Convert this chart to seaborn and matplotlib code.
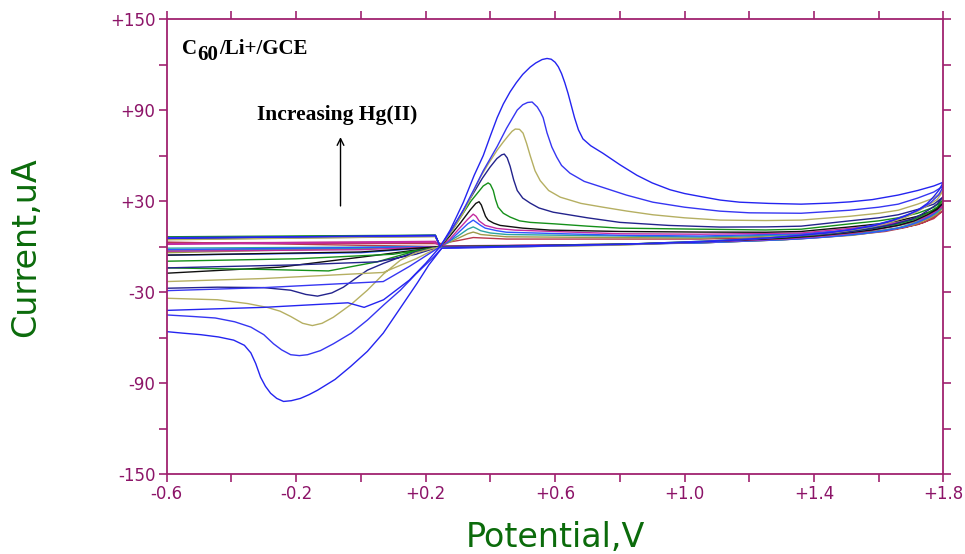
import matplotlib
matplotlib.use("Agg")
import matplotlib.pyplot as plt
import seaborn as sns
import pandas as pd

# ---------------- data ----------------
# curve 1 - largest (blue)
c1_fwd_v = [-0.60, -0.30, -0.04, 0.01, 0.07, 0.15, 0.20, 0.245, 0.276, 0.316, 0.35, 0.378, 0.40, 0.421, 0.44, 0.461, 0.48, 0.50, 0.523, 0.54, 0.56, 0.575, 0.588, 0.60, 0.61, 0.62, 0.63, 0.64, 0.65, 0.66, 0.672, 0.686, 0.71, 0.748, 0.80, 0.853, 0.90, 0.955, 1.00, 1.05, 1.11, 1.17, 1.26, 1.36, 1.45, 1.51, 1.58, 1.66, 1.72, 1.77, 1.80]
c1_fwd_i = [-42, -40, -37, -40, -35, -22, -11, 0, 11, 29, 47, 60, 73, 85, 94, 102, 108, 113.5, 118.3, 121, 123.3, 124, 123.5, 121.5, 118.5, 114, 108, 101, 93, 85, 77, 71, 66.5, 61.5, 54, 47, 42, 37.5, 35, 33, 30.7, 29.3, 28.5, 28, 28.7, 29.5, 31, 34, 37, 40, 42.5]
c1_rev_v = [1.80, 1.785, 1.77, 1.75, 1.72, 1.68, 1.64, 1.58, 1.51, 1.44, 1.36, 1.26, 1.17, 1.05, 0.90, 0.80, 0.65, 0.50, 0.30, 0.25, 0.21, 0.174, 0.12, 0.069, 0.02, -0.032, -0.08, -0.134, -0.16, -0.187, -0.215, -0.239, -0.26, -0.279, -0.295, -0.31, -0.325, -0.34, -0.36, -0.393, -0.44, -0.495, -0.55, -0.60]
c1_rev_i = [42.5, 37, 33, 28.5, 24, 20, 17, 13.5, 11, 9, 7.5, 5.8, 4.5, 3, 2, 1.5, 1, 0.5, -0.5, -1, -12, -24, -41, -57, -69, -79, -87.5, -94.6, -97.5, -100, -101.5, -102, -100, -96.6, -92, -86, -77, -70, -65, -61.6, -59.5, -58, -57, -56]
# curve 2 (blue)
c2_fwd_v = [-0.60, -0.30, -0.07, 0.069, 0.15, 0.245, 0.28, 0.316, 0.35, 0.378, 0.421, 0.45, 0.483, 0.50, 0.515, 0.529, 0.545, 0.555, 0.563, 0.575, 0.59, 0.605, 0.62, 0.646, 0.69, 0.748, 0.82, 0.902, 1.00, 1.109, 1.20, 1.36, 1.51, 1.60, 1.66, 1.72, 1.77, 1.80]
c2_fwd_i = [-29, -27, -24.5, -23, -13, 0, 11, 24, 38, 50, 66, 78, 90, 93.5, 95, 95.3, 92, 88.5, 85, 75, 65.6, 59, 53.5, 48.4, 43, 39, 34, 29.3, 26, 23.4, 22.3, 22, 24, 26, 28, 32, 36, 40]
c2_rev_v = [1.80, 1.785, 1.76, 1.73, 1.70, 1.65, 1.60, 1.52, 1.45, 1.35, 1.25, 1.05, 0.80, 0.50, 0.30, 0.25, 0.224, 0.17, 0.122, 0.07, 0.02, -0.03, -0.085, -0.125, -0.165, -0.19, -0.217, -0.245, -0.27, -0.30, -0.34, -0.39, -0.45, -0.52, -0.60]
c2_rev_i = [40, 34, 29, 25, 22, 18, 15, 11.5, 9.5, 7.2, 5.5, 3.5, 1.5, 0, -1, -1, -7, -18, -28.7, -38.5, -48.4, -57, -64, -68.5, -71.2, -71.8, -71.2, -68, -64, -58, -53, -49.5, -47, -46, -45]
# curve 3 (olive)
c3_fwd_v = [-0.60, -0.30, 0.069, 0.17, 0.245, 0.28, 0.316, 0.345, 0.369, 0.395, 0.421, 0.44, 0.455, 0.467, 0.477, 0.49, 0.501, 0.512, 0.523, 0.538, 0.554, 0.58, 0.616, 0.68, 0.748, 0.82, 0.902, 1.00, 1.109, 1.25, 1.36, 1.51, 1.60, 1.66, 1.72, 1.77, 1.80]
c3_fwd_i = [-23, -21, -17, -8, 0, 10, 22, 35, 45.8, 55, 63.6, 69, 73, 76, 77.5, 77.3, 74.8, 68, 60, 50, 43.5, 37, 32.6, 28.5, 26, 23.5, 21, 19, 17.5, 17.2, 17.5, 20, 22, 24, 28, 32, 37]
c3_rev_v = [1.80, 1.78, 1.75, 1.71, 1.68, 1.62, 1.55, 1.47, 1.40, 1.20, 1.05, 0.80, 0.50, 0.30, 0.25, 0.224, 0.17, 0.122, 0.07, 0.02, -0.03, -0.085, -0.12, -0.15, -0.18, -0.217, -0.25, -0.29, -0.35, -0.443, -0.60]
c3_rev_i = [37, 31, 27, 22, 19, 15, 12, 9.5, 8, 5, 3, 1, 0, -0.5, -0.5, -1, -4, -8.9, -18, -28.7, -38, -46.5, -50.5, -52, -50.5, -46, -42.5, -40, -37.5, -35, -34]
# curve 4 (navy)
c4_fwd_v = [-0.60, -0.20, 0.05, 0.17, 0.245, 0.27, 0.30, 0.347, 0.375, 0.399, 0.42, 0.435, 0.443, 0.452, 0.461, 0.472, 0.483, 0.50, 0.523, 0.55, 0.594, 0.70, 0.80, 0.95, 1.109, 1.25, 1.36, 1.51, 1.60, 1.66, 1.72, 1.77, 1.80]
c4_fwd_i = [-14, -12, -10, -5, 0, 8, 18, 35, 45, 52.4, 58, 60.5, 61, 58.5, 53, 44, 37, 32, 28.7, 25.5, 22.7, 19, 16, 14, 12.9, 13, 13.5, 17, 19, 21, 24.5, 28, 33]
c4_rev_v = [1.80, 1.78, 1.76, 1.73, 1.70, 1.64, 1.58, 1.50, 1.42, 1.20, 1.05, 0.80, 0.50, 0.25, 0.224, 0.17, 0.122, 0.07, 0.02, -0.02, -0.054, -0.09, -0.134, -0.17, -0.217, -0.30, -0.443, -0.60]
c4_rev_i = [33, 28, 25, 21, 18, 14.5, 12, 9.5, 8, 5, 3, 1.2, 0, 0, -1, -3.5, -6.9, -11, -15.5, -21.5, -26.7, -30.5, -32.6, -31.5, -28.7, -27, -26.7, -27.4]
# curve 5 (green)
c5_fwd_v = [-0.60, -0.20, 0.10, 0.245, 0.28, 0.316, 0.34, 0.359, 0.378, 0.393, 0.40, 0.409, 0.416, 0.424, 0.44, 0.461, 0.49, 0.523, 0.60, 0.70, 0.80, 1.05, 1.25, 1.36, 1.51, 1.60, 1.66, 1.72, 1.77, 1.80]
c5_fwd_i = [-9.6, -8, -5, 0, 10, 22, 30, 35, 40, 42, 41, 37, 31, 26, 22, 19.5, 17, 16, 15, 13.5, 12.2, 11.5, 11, 11.5, 15, 17, 19, 22, 26, 31]
c5_rev_v = [1.80, 1.78, 1.75, 1.71, 1.66, 1.58, 1.50, 1.40, 1.30, 1.05, 0.80, 0.50, 0.25, 0.15, 0.05, -0.10, -0.30, -0.60]
c5_rev_i = [31, 26, 22, 18, 15, 12, 9.5, 7.5, 6, 3.5, 1.5, 0.5, 0, -4, -10, -16, -15, -14]
# curve 6 (black)
c6_fwd_v = [-0.60, 0.00, 0.245, 0.275, 0.307, 0.337, 0.355, 0.365, 0.372, 0.378, 0.385, 0.393, 0.41, 0.43, 0.50, 0.585, 0.80, 1.05, 1.25, 1.36, 1.51, 1.60, 1.66, 1.72, 1.77, 1.80]
c6_fwd_i = [-5.6, -3.5, 0, 7, 15.5, 24, 28.5, 29.6, 27.5, 24, 20, 17.5, 15.5, 14, 12.2, 10.9, 10, 9.6, 9.5, 10, 13, 15, 17, 20, 24, 29]
c6_rev_v = [1.80, 1.78, 1.75, 1.71, 1.66, 1.58, 1.50, 1.40, 1.30, 1.05, 0.80, 0.50, 0.25, 0.05, -0.25, -0.60]
c6_rev_i = [29, 24.5, 21, 17, 14, 11, 9, 7, 5.5, 3.2, 1.5, 0.5, 0, -5.6, -13.5, -17.5]
# curve 7 (magenta)
c7_fwd_v = [-0.60, 0.00, 0.245, 0.275, 0.30, 0.33, 0.347, 0.356, 0.365, 0.384, 0.42, 0.476, 0.80, 1.05, 1.36, 1.51, 1.60, 1.66, 1.72, 1.77, 1.80]
c7_fwd_i = [-3, -2, 0, 5, 11, 18, 21.4, 20, 17, 14, 12, 10.9, 8.5, 8.2, 9, 12, 14, 16, 19, 23, 27]
c7_rev_v = [1.80, 1.77, 1.74, 1.69, 1.64, 1.57, 1.50, 1.40, 1.30, 1.05, 0.80, 0.25, 0.22, -0.60]
c7_rev_i = [27, 22.5, 19, 15.5, 13, 10.5, 8.5, 6.5, 5, 3, 1.5, 0.5, 3, 1.5]
# curve 8 (light blue)
c8_fwd_v = [-0.60, 0.245, 0.275, 0.30, 0.33, 0.347, 0.357, 0.37, 0.384, 0.42, 0.45, 0.80, 1.05, 1.36, 1.51, 1.60, 1.66, 1.72, 1.77, 1.80]
c8_fwd_i = [-2, 0, 4, 9, 15, 17.5, 16, 14, 12.2, 10.5, 9.5, 7.5, 7, 8.5, 11, 13.5, 15.5, 18.5, 22.5, 28]
c8_rev_v = [1.80, 1.78, 1.76, 1.72, 1.68, 1.62, 1.55, 1.45, 1.35, 1.05, 0.70, 0.25, 0.00, -0.60]
c8_rev_i = [28, 23.5, 20, 16, 13, 10.5, 8.5, 6.5, 5, 2.5, 1, 0, -4, -5.6]
# curve 9 (teal)
c9_fwd_v = [-0.60, 0.245, 0.30, 0.33, 0.347, 0.357, 0.37, 0.40, 0.45, 1.05, 1.36, 1.51, 1.60, 1.66, 1.72, 1.77, 1.80]
c9_fwd_i = [-1, 0, 7, 11.5, 13, 12, 10.5, 9, 8, 6.3, 8, 10.5, 12.5, 14.5, 17.5, 21.5, 27]
c9_rev_v = [1.80, 1.78, 1.75, 1.71, 1.66, 1.59, 1.52, 1.40, 1.30, 1.05, 0.25, -0.60]
c9_rev_i = [27, 22.5, 19, 15.5, 12.5, 10, 8, 6, 4.5, 2.5, 0, -3]
# curve 10 (small olive)
c10_fwd_v = [-0.60, 0.245, 0.30, 0.33, 0.347, 0.36, 0.37, 0.45, 1.05, 1.36, 1.51, 1.60, 1.66, 1.72, 1.77, 1.80]
c10_fwd_i = [-4, 0, 5.5, 8.5, 9.6, 8.8, 8, 6.5, 5.6, 7.6, 10, 12, 14, 16.5, 20.5, 26]
c10_rev_v = [1.80, 1.78, 1.75, 1.71, 1.66, 1.59, 1.52, 1.40, 1.30, 1.05, 0.25, -0.60]
c10_rev_i = [26, 21.5, 18, 14.5, 12, 9.5, 7.5, 5.8, 4.5, 2.5, 0, -2.3]
# curve 11 (blank, red)
c11_fwd_v = [-0.60, 0.245, 0.30, 0.347, 0.45, 1.05, 1.36, 1.51, 1.60, 1.66, 1.72, 1.77, 1.80]
c11_fwd_i = [2.5, 2, 4, 6, 5, 5, 6.5, 8.5, 10.5, 12, 14.5, 18.5, 24]
c11_rev_v = [1.80, 1.77, 1.74, 1.68, 1.62, 1.51, 1.40, 1.30, 1.05, 0.25, -0.60]
c11_rev_i = [24, 19.5, 16, 12.5, 10, 7.6, 5.8, 4.5, 2.5, 0, 3]

# initial segments (upper-left bundle), one value per curve c1..c11
init_v = [0.245, 0.23, -0.60]
init_top_i = [7.5, 7.0, 6.8, 7.2, 7.6, 7.3, 3.5, 7.0, 7.4, 6.6, 3.0]
init_left_i = [5.5, 6.0, 4.5, 5.0, 6.5, 6.0, 2.0, 5.2, 5.8, 4.8, 2.5]

curve_names = ["c1", "c2", "c3", "c4", "c5", "c6", "c7", "c8", "c9", "c10", "c11"]
curve_colors = ["#2424F0", "#3636F2", "#B5AF62", "#23238C", "#15901A", "#101010",
                "#C42CA0", "#2F55FF", "#2BA3A3", "#9E9A4A", "#B8384C"]

x_major = [-0.6, -0.2, 0.2, 0.6, 1.0, 1.4, 1.8]
x_major_labels = ["-0.6", "-0.2", "+0.2", "+0.6", "+1.0", "+1.4", "+1.8"]
x_minor = [-0.4, 0.0, 0.4, 0.8, 1.2, 1.6]
y_major = [-150, -90, -30, 30, 90, 150]
y_major_labels = ["-150", "-90", "-30", "+30", "+90", "+150"]
y_minor = [-120, -60, 0, 60, 120]

# ---------------- build long table ----------------
series = {
    "c1": (c1_fwd_v, c1_fwd_i, c1_rev_v, c1_rev_i),
    "c2": (c2_fwd_v, c2_fwd_i, c2_rev_v, c2_rev_i),
    "c3": (c3_fwd_v, c3_fwd_i, c3_rev_v, c3_rev_i),
    "c4": (c4_fwd_v, c4_fwd_i, c4_rev_v, c4_rev_i),
    "c5": (c5_fwd_v, c5_fwd_i, c5_rev_v, c5_rev_i),
    "c6": (c6_fwd_v, c6_fwd_i, c6_rev_v, c6_rev_i),
    "c7": (c7_fwd_v, c7_fwd_i, c7_rev_v, c7_rev_i),
    "c8": (c8_fwd_v, c8_fwd_i, c8_rev_v, c8_rev_i),
    "c9": (c9_fwd_v, c9_fwd_i, c9_rev_v, c9_rev_i),
    "c10": (c10_fwd_v, c10_fwd_i, c10_rev_v, c10_rev_i),
    "c11": (c11_fwd_v, c11_fwd_i, c11_rev_v, c11_rev_i),
}
rows = []
for k, name in enumerate(curve_names):
    fv, fi, rv, ri = series[name]
    ii = [0.0, init_top_i[k], init_left_i[k]]
    for v, i in zip(init_v, ii):
        rows.append((name, name + "-init", v, i))
    for v, i in zip(list(fv) + list(rv), list(fi) + list(ri)):
        rows.append((name, name + "-scan", v, i))
df = pd.DataFrame(rows, columns=["curve", "unit", "V", "I"])

# ---------------- figure ----------------
purple = "#A0226F"
label_purple = "#8C1468"
green = "#0B6B0B"

plt.rcParams["font.family"] = ["DejaVu Sans"]
fig = plt.figure(figsize=(9.65, 5.54), dpi=100)
ax = fig.add_axes([0.17275, 0.14386, 0.80497, 0.82184])

draw_order = curve_names[::-1]
palette = dict(zip(curve_names, curve_colors))
sns.lineplot(data=df, x="V", y="I", hue="curve", hue_order=draw_order, palette=palette,
             units="unit", estimator=None, sort=False, legend=False, lw=1.0, ax=ax)

ax.set_xlim(-0.6, 1.8)
ax.set_ylim(-150, 150)
ax.set_facecolor("white")

for s in ax.spines.values():
    s.set_visible(True)
    s.set_color(purple)
    s.set_linewidth(1.3)

ax.set_xticks(x_major, x_major_labels)
ax.set_xticks(x_minor, minor=True)
ax.set_yticks(y_major, y_major_labels)
ax.set_yticks(y_minor, minor=True)
for which in ("major", "minor"):
    ax.tick_params(axis="both", which=which, direction="out", length=6, width=1.2,
                   color=purple, top=True, right=True, labeltop=False, labelright=False)
ax.tick_params(axis="both", which="major", labelsize=12, labelcolor=label_purple, pad=2)

ax.set_xlabel("Potential,V", fontsize=24, color=green)
ax.set_ylabel("Current,uA", fontsize=24, color=green)
ax.xaxis.set_label_coords(0.5, -0.139)
ax.xaxis.label.set_va("center")
ax.yaxis.set_label_coords(-0.182, 0.5)
ax.yaxis.label.set_va("center")

serif = ["Liberation Serif", "DejaVu Serif"]
ax.text(-0.552, 130, "C", fontsize=15, fontweight="bold", family=serif, va="center", ha="left")
ax.text(-0.505, 126, "60", fontsize=15, fontweight="bold", family=serif, va="center", ha="left")
ax.text(-0.438, 130, "/Li+/GCE", fontsize=15, fontweight="bold", family=serif, va="center", ha="left")
ax.text(-0.322, 86.7, "Increasing Hg(II)", fontsize=15.5, fontweight="bold", family=serif,
        va="center", ha="left")
ax.annotate("", xy=(-0.063, 74), xytext=(-0.063, 25),
            arrowprops=dict(arrowstyle="->", color="black", lw=1.0, mutation_scale=12))

fig.savefig("out.png", dpi=100, facecolor="white")
